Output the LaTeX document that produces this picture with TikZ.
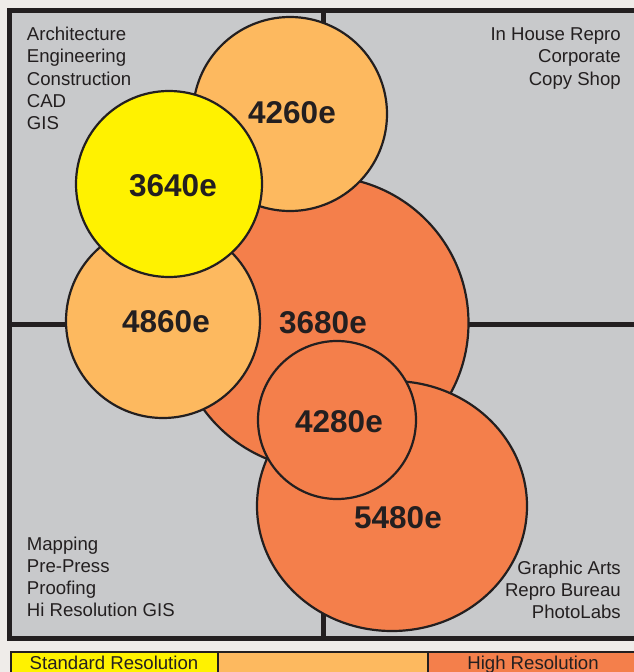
\documentclass[tikz,border=0pt]{standalone}
\usepackage{fontspec}
\setmainfont{Liberation Sans}
\usetikzlibrary{shapes.geometric}
\definecolor{bg}{HTML}{EFECE9}
\definecolor{panel}{HTML}{C8C9CB}
\definecolor{ink}{HTML}{231F20}
\definecolor{yel}{HTML}{FFF200}
\definecolor{lor}{HTML}{FDB95F}
\definecolor{dor}{HTML}{F47F4B}
\tikzset{
  blob/.style={draw=ink, line width=2.2pt},
  num/.style={font=\fontsize{31.5}{35}\selectfont\bfseries, text=ink, inner sep=0pt},
  lbl/.style={font=\fontsize{18.6}{22}\selectfont, text=ink, inner sep=0pt},
  grid/.style={draw=ink, line width=4.5pt},
  legcell/.style={draw=ink, line width=1.5pt}
}
\begin{document}
\begin{tikzpicture}[x=1pt,y=-1pt]
\useasboundingbox (0,0) rectangle (634,672);
\clip (0,0) rectangle (634,672);
\fill[bg] (0,0) rectangle (634,672);
% panel
\fill[panel] (9.2,10) rectangle (645,638.3);
\draw[grid] (323.5,10) -- (323.5,638.3);
\draw[grid] (9.2,324.5) -- (645,324.5);
% circles
\draw[blob, fill=dor] (322,323) circle [radius=146.5];
\draw[blob, fill=dor] (392,506) ellipse [x radius=135, y radius=125];
\draw[blob, fill=dor] (337,420) circle [radius=79];
\draw[blob, fill=lor] (163,321) circle [radius=97];
\draw[blob, fill=lor] (290,114) circle [radius=97];
\draw[blob, fill=yel] (169,184) circle [radius=93];
% frame
\draw[ink, line width=5pt] (9.2,10) rectangle (645,638.3);
% numbers
\node[num] (n3640) at (173,186) {3640e};
\node[num] (n4260) at (292,113) {4260e};
\node[num] (n4860) at (166,321.5) {4860e};
\node[num] (n3680) at (323,323) {3680e};
\node[num] (n4280) at (339,421.5) {4280e};
\node[num] (n5480) at (398,518) {5480e};
% top-left labels
\node[lbl, anchor=base west] (tl1) at (26.7,40.5) {Architecture};
\node[lbl, anchor=base west] (tl2) at (26.7,62.8) {Engineering};
\node[lbl, anchor=base west] (tl3) at (26.7,85.1) {Construction};
\node[lbl, anchor=base west] (tl4) at (26.7,107.4) {CAD};
\node[lbl, anchor=base west] (tl5) at (26.7,129.7) {GIS};
% top-right labels
\node[lbl, anchor=base east] (tr1) at (621,40.5) {In House Repro};
\node[lbl, anchor=base east] (tr2) at (621,62.8) {Corporate};
\node[lbl, anchor=base east] (tr3) at (621,85.1) {Copy Shop};
% bottom-left labels
\node[lbl, anchor=base west] (bl1) at (26.7,550) {Mapping};
\node[lbl, anchor=base west] (bl2) at (26.7,572.3) {Pre-Press};
\node[lbl, anchor=base west] (bl3) at (26.7,594.6) {Proofing};
\node[lbl, anchor=base west] (bl4) at (26.7,616.9) {Hi Resolution GIS};
% bottom-right labels
\node[lbl, anchor=base east] (br1) at (621,574) {Graphic Arts};
\node[lbl, anchor=base east] (br2) at (621,596.3) {Repro Bureau};
\node[lbl, anchor=base east] (br3) at (621,618.6) {PhotoLabs};
% legend
\draw[legcell, fill=yel] (10.8,652) rectangle (218,685);
\draw[legcell, fill=lor] (218,652) rectangle (428,685);
\draw[legcell, fill=dor] (428,652) rectangle (645,685);
\node[lbl, anchor=base] (leg1) at (114,669.5) {Standard Resolution};
\node[lbl, anchor=base] (leg3) at (533,669.5) {High Resolution};
\end{tikzpicture}
\end{document}
